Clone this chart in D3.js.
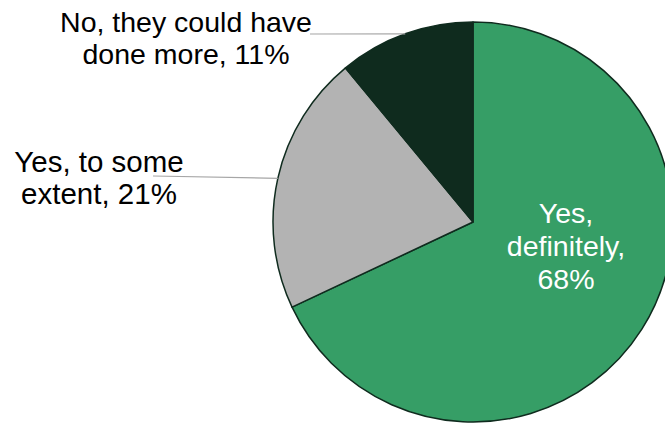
<!DOCTYPE html>
<html>
<head>
<meta charset="utf-8">
<script src="https://cdn.jsdelivr.net/npm/d3@7"></script>
<style>
  html, body { margin: 0; padding: 0; background: #fff; }
  svg { display: block; }
  text { font-family: "Liberation Sans", Arial, sans-serif; }
</style>
</head>
<body>
<svg id="chart" width="665" height="423"></svg>
<script>
// Survey responses, in drawing order clockwise from 12 o'clock
const categories = ["Yes, definitely", "Yes, to some extent", "No, they could have done more"];
const values = [68, 21, 11];
const labelLines = [
  ["Yes,", "definitely,", "68%"],
  ["Yes, to some", "extent, 21%"],
  ["No, they could have", "done more, 11%"]
];
const colors = ["#369e66", "#b3b3b3", "#0f2b1e"];

const W = 665, H = 423;
const cx = 473, cy = 222, R = 200;

const svg = d3.select("#chart");
const g = svg.append("g").attr("transform", `translate(${cx},${cy})`);

const pie = d3.pie().sort(null).value(d => d.value).startAngle(0).endAngle(2 * Math.PI);
const data = categories.map((c, i) => ({ name: c, value: values[i], color: colors[i], lines: labelLines[i] }));
const arcs = pie(data);
const arc = d3.arc().innerRadius(0).outerRadius(R);

g.selectAll("path.slice")
  .data(arcs)
  .join("path")
  .attr("class", "slice")
  .attr("d", arc)
  .attr("fill", d => d.data.color)
  .attr("stroke", "#0f2b1e")
  .attr("stroke-width", 1.5)
  .attr("stroke-linejoin", "round");

// Label placement: inside for the large slice, outside with leader lines for the others
const labelPos = [
  { x: 566 - cx, y: 223 - cy, inside: true, lead: 33, size: 28.5 },
  { x: 99 - cx, y: 172 - cy, inside: false, lead: 31.5, size: 29.5, line: [153 - cx, 176 - cy] },
  { x: 186 - cx, y: 32 - cy, inside: false, lead: 31.5, size: 28.5, line: [310 - cx, 34 - cy] }
];

arcs.forEach((a, i) => {
  const p = labelPos[i];
  if (!p.inside) {
    const mid = (a.startAngle + a.endAngle) / 2;
    const ex = R * Math.sin(mid), ey = -R * Math.cos(mid);
    g.append("line")
      .attr("x1", p.line[0]).attr("y1", p.line[1])
      .attr("x2", ex).attr("y2", ey)
      .attr("stroke", "#a6a6a6")
      .attr("stroke-width", 1.2);
  }
  const t = g.append("text")
    .attr("text-anchor", "middle")
    .attr("font-size", p.size)
    .attr("fill", p.inside ? "#ffffff" : "#000000");
  a.data.lines.forEach((ln, j) => {
    t.append("tspan").attr("x", p.x).attr("y", p.y + j * p.lead).text(ln);
  });
});
</script>
</body>
</html>
